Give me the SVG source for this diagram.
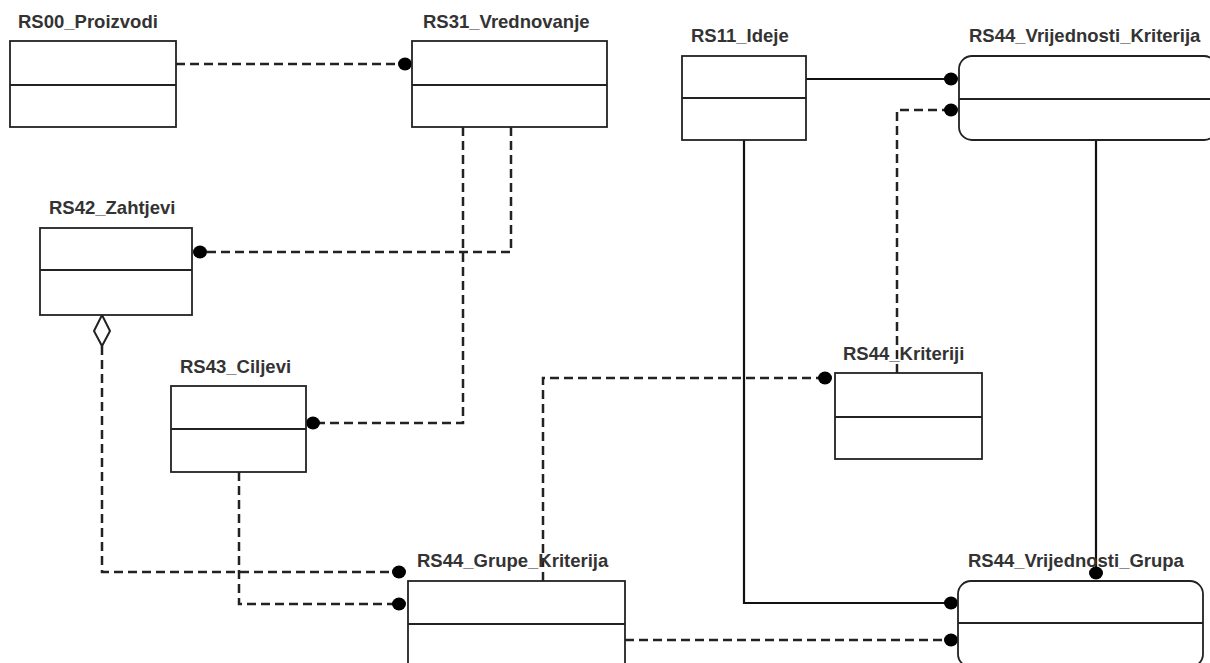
<svg xmlns="http://www.w3.org/2000/svg" width="1210" height="663" viewBox="0 0 1210 663">
<style>
.box{fill:#fff;stroke:#222;stroke-width:1.8}
.div{stroke:#222;stroke-width:1.8}
.lbl{font-family:"Liberation Sans",Arial,sans-serif;font-weight:bold;font-size:18.5px;fill:#333}
.d{fill:none;stroke:#222;stroke-width:2.5;stroke-dasharray:9 5}
.s{fill:none;stroke:#111;stroke-width:2.2}
.dot{fill:#000}
</style>
<rect width="1210" height="663" fill="#fff"/>
<g id="connectors">
<path class="d" d="M176,64 H405"/><ellipse class="dot" cx="405" cy="64" rx="7" ry="6.5"/>
<path class="d" d="M511,127 V252 H200"/><ellipse class="dot" cx="200" cy="252" rx="7" ry="6.5"/>
<path class="d" d="M463,127 V423 H313"/><ellipse class="dot" cx="313" cy="423" rx="7" ry="6.5"/>
<path class="d" d="M102,346 V572 H399"/><ellipse class="dot" cx="399" cy="572" rx="7" ry="6.5"/>
<path fill="#fff" stroke="#222" stroke-width="2" d="M102,315 L110,331 L102,346 L94,331 Z"/>
<path class="d" d="M239,472 V604 H399"/><ellipse class="dot" cx="399" cy="604" rx="7" ry="6.5"/>
<path class="d" d="M543,581 V378 H825"/><ellipse class="dot" cx="825" cy="378" rx="7" ry="6.5"/>
<path class="d" d="M897,373 V110 H951"/><ellipse class="dot" cx="951" cy="110" rx="7" ry="6.5"/>
<path class="s" d="M806,79 H951"/><ellipse class="dot" cx="951" cy="79" rx="7" ry="6.5"/>
<path class="s" d="M744,140 V603 H951"/><ellipse class="dot" cx="951" cy="603" rx="7" ry="6.5"/>
<path class="s" d="M1096,140 V573"/><ellipse class="dot" cx="1096" cy="573" rx="7" ry="6.5"/>
<path class="d" d="M625,640 H951"/><ellipse class="dot" cx="951" cy="640" rx="7" ry="6.5"/>
</g>
<g id="RS00_Proizvodi">
<text class="lbl" x="18" y="27.5">RS00_Proizvodi</text>
<rect class="box" x="10" y="41" width="166" height="86"/><line class="div" x1="10" y1="85" x2="176" y2="85"/>
</g>
<g id="RS31_Vrednovanje">
<text class="lbl" x="423" y="27.5">RS31_Vrednovanje</text>
<rect class="box" x="412" y="41" width="195" height="86"/><line class="div" x1="412" y1="85" x2="607" y2="85"/>
</g>
<g id="RS11_Ideje">
<text class="lbl" x="691" y="42">RS11_Ideje</text>
<rect class="box" x="682" y="56" width="124" height="84"/><line class="div" x1="682" y1="98" x2="806" y2="98"/>
</g>
<g id="RS44_Vrijednosti_Kriterija">
<text class="lbl" x="969" y="42">RS44_Vrijednosti_Kriterija</text>
<rect class="box" x="959" y="56" width="258" height="84" rx="13"/><line class="div" x1="959" y1="99" x2="1210" y2="99"/>
</g>
<g id="RS42_Zahtjevi">
<text class="lbl" x="49" y="214">RS42_Zahtjevi</text>
<rect class="box" x="40" y="228" width="152" height="87"/><line class="div" x1="40" y1="270" x2="192" y2="270"/>
</g>
<g id="RS43_Ciljevi">
<text class="lbl" x="180" y="373">RS43_Ciljevi</text>
<rect class="box" x="171" y="386" width="135" height="86"/><line class="div" x1="171" y1="429" x2="306" y2="429"/>
</g>
<g id="RS44_Kriteriji">
<text class="lbl" x="843" y="360">RS44_Kriteriji</text>
<rect class="box" x="835" y="373" width="147" height="86"/><line class="div" x1="835" y1="417" x2="982" y2="417"/>
</g>
<g id="RS44_Grupe_Kriterija">
<text class="lbl" x="417" y="567">RS44_Grupe_Kriterija</text>
<rect class="box" x="408" y="581" width="217" height="100"/><line class="div" x1="408" y1="624" x2="625" y2="624"/>
</g>
<g id="RS44_Vrijednosti_Grupa">
<text class="lbl" x="968" y="567">RS44_Vrijednosti_Grupa</text>
<rect class="box" x="958" y="581" width="245" height="86" rx="13"/><line class="div" x1="958" y1="623" x2="1203" y2="623"/>
</g>
</svg>
